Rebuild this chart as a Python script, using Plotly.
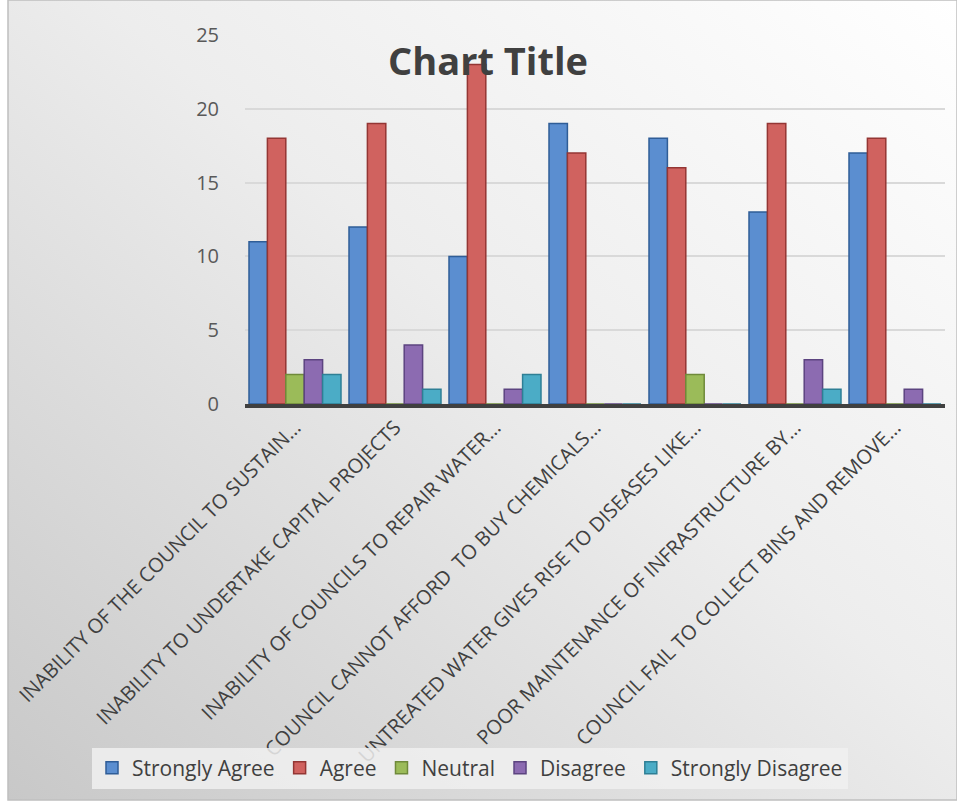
import base64
import plotly.graph_objects as go

categories = [
    "INABILITY OF THE COUNCIL TO SUSTAIN…",
    "INABILITY TO UNDERTAKE CAPITAL PROJECTS",
    "INABILITY OF COUNCILS TO REPAIR WATER…",
    "COUNCIL CANNOT AFFORD  TO BUY CHEMICALS…",
    "UNTREATED WATER GIVES RISE TO DISEASES LIKE…",
    "POOR MAINTENANCE OF INFRASTRUCTURE BY…",
    "COUNCIL FAIL TO COLLECT BINS AND REMOVE…",
]
strongly_agree = [11, 12, 10, 19, 18, 13, 17]
agree = [18, 19, 23, 17, 16, 19, 18]
neutral = [2, 0, 0, 0, 2, 0, 0]
disagree = [3, 4, 1, 0, 0, 3, 1]
strongly_disagree = [2, 1, 2, 0, 0, 1, 0]

series = [
    ("Strongly Agree", strongly_agree, "#5B8ED0", "#2F5D97"),
    ("Agree", agree, "#D0625F", "#943634"),
    ("Neutral", neutral, "#9BBB59", "#6F8A3A"),
    ("Disagree", disagree, "#8C6BB1", "#5C4480"),
    ("Strongly Disagree", strongly_disagree, "#4BACC6", "#2E7F95"),
]

W, H = 957, 803
ML, MR, MT, MB = 245, 12, 35, 399
PW, PH = W - ML - MR, H - MT - MB

fig = go.Figure()
for name, vals, fill, line in series:
    fig.add_trace(go.Bar(
        x=categories, y=vals, name=name,
        marker=dict(color=fill, line=dict(color=line, width=1.5)),
    ))

svg = f'''<svg xmlns="http://www.w3.org/2000/svg" width="{W}" height="{H}">
<defs><linearGradient id="g" x1="1" y1="0" x2="0" y2="1">
<stop offset="0" stop-color="#FFFFFF"/><stop offset="0.45" stop-color="#EDEDED"/>
<stop offset="1" stop-color="#C8C8C8"/></linearGradient></defs>
<rect x="0" y="0" width="{W}" height="{H}" fill="#FFFFFF"/>
<rect x="8" y="0" width="{W-8}" height="{H-3}" fill="url(#g)" stroke="#BFBFBF" stroke-width="1.5"/>
</svg>'''
src = "data:image/svg+xml;base64," + base64.b64encode(svg.encode()).decode()

fig.update_layout(
    width=W, height=H,
    margin=dict(l=ML, r=MR, t=MT, b=MB, autoexpand=False),
    paper_bgcolor="white", plot_bgcolor="rgba(0,0,0,0)",
    font=dict(family="Open Sans", color="#404040"),
    barmode="group", bargap=0.08, bargroupgap=0,
    title=dict(text="<b>Chart Title</b>", x=0.51, xref="container", xanchor="center",
               y=1 - 62 / H, yref="container", yanchor="middle",
               font=dict(size=38, color="#404040", family="Open Sans")),
    images=[dict(source=src, xref="paper", yref="paper",
                 x=-ML / PW, y=1 + MT / PH, sizex=W / PW, sizey=H / PH,
                 xanchor="left", yanchor="top", sizing="stretch", layer="below")],
    legend=dict(orientation="h", xref="paper", x=(92 - ML) / PW, xanchor="left",
                yref="paper", y=-(768 - (MT + PH)) / PH, yanchor="middle",
                bgcolor="rgba(240,240,240,0.85)", font=dict(size=21, color="#404040"),
                itemwidth=30, tracegroupgap=0),
    showlegend=True,
)
fig.update_xaxes(tickangle=-45, tickfont=dict(size=20, color="#404040"),
                 showline=True, linecolor="#404040", linewidth=4,
                 showgrid=False, ticks="", automargin=False)
fig.update_yaxes(range=[0, 25], dtick=5, tickfont=dict(size=20, color="#595959"),
                 gridcolor="#D9D9D9", gridwidth=2, zeroline=False,
                 ticklabelstandoff=25, showline=False, automargin=False)

fig.write_html("out.html")
